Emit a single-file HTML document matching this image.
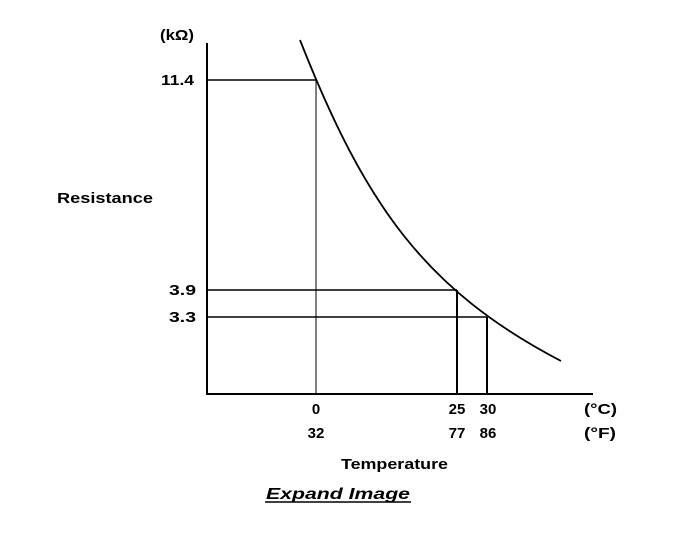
<!DOCTYPE html>
<html><head><style>
html,body{margin:0;padding:0;background:#fff;}
svg{display:block}
text{font-family:"Liberation Sans",sans-serif;font-weight:bold;font-size:15px;fill:#000}
</style></head><body>
<svg width="688" height="536" viewBox="0 0 688 536" xmlns="http://www.w3.org/2000/svg">
<g stroke="#000" fill="none">
<line x1="207" y1="43" x2="207" y2="395" stroke-width="2"/>
<line x1="206" y1="394" x2="593" y2="394" stroke-width="2"/>
<line x1="207" y1="80" x2="316" y2="80" stroke-width="1.5"/>
<line x1="316" y1="80" x2="316" y2="394" stroke-width="1"/>
<line x1="207" y1="290" x2="457" y2="290" stroke-width="1.5"/>
<line x1="457" y1="290" x2="457" y2="394" stroke-width="2"/>
<line x1="207" y1="317" x2="487" y2="317" stroke-width="1.5"/>
<line x1="487" y1="317" x2="487" y2="394" stroke-width="2"/>
<path d="M300,40 C365,205 425,290 561,361" stroke-width="1.8"/>
</g>
<text x="160" y="40" textLength="34" lengthAdjust="spacingAndGlyphs">(kΩ)</text>
<text x="161" y="85" textLength="33" lengthAdjust="spacingAndGlyphs">11.4</text>
<text x="57" y="203" textLength="96" lengthAdjust="spacingAndGlyphs">Resistance</text>
<text x="169" y="295" textLength="27" lengthAdjust="spacingAndGlyphs">3.9</text>
<text x="169" y="322" textLength="27" lengthAdjust="spacingAndGlyphs">3.3</text>
<text x="316" y="414" text-anchor="middle">0</text>
<text x="316" y="438" text-anchor="middle">32</text>
<text x="457" y="414" text-anchor="middle">25</text>
<text x="488" y="414" text-anchor="middle">30</text>
<text x="457" y="438" text-anchor="middle">77</text>
<text x="488" y="438" text-anchor="middle">86</text>
<text x="584" y="414" textLength="33" lengthAdjust="spacingAndGlyphs">(°C)</text>
<text x="584" y="438" textLength="32" lengthAdjust="spacingAndGlyphs">(°F)</text>
<text x="341" y="469" textLength="107" lengthAdjust="spacingAndGlyphs">Temperature</text>
<text x="266" y="499" textLength="144" lengthAdjust="spacingAndGlyphs" style="font-style:italic;font-size:16px">Expand Image</text>
<line x1="265" y1="502" x2="411" y2="502" stroke="#000" stroke-width="1.5"/>
</svg>
</body></html>
